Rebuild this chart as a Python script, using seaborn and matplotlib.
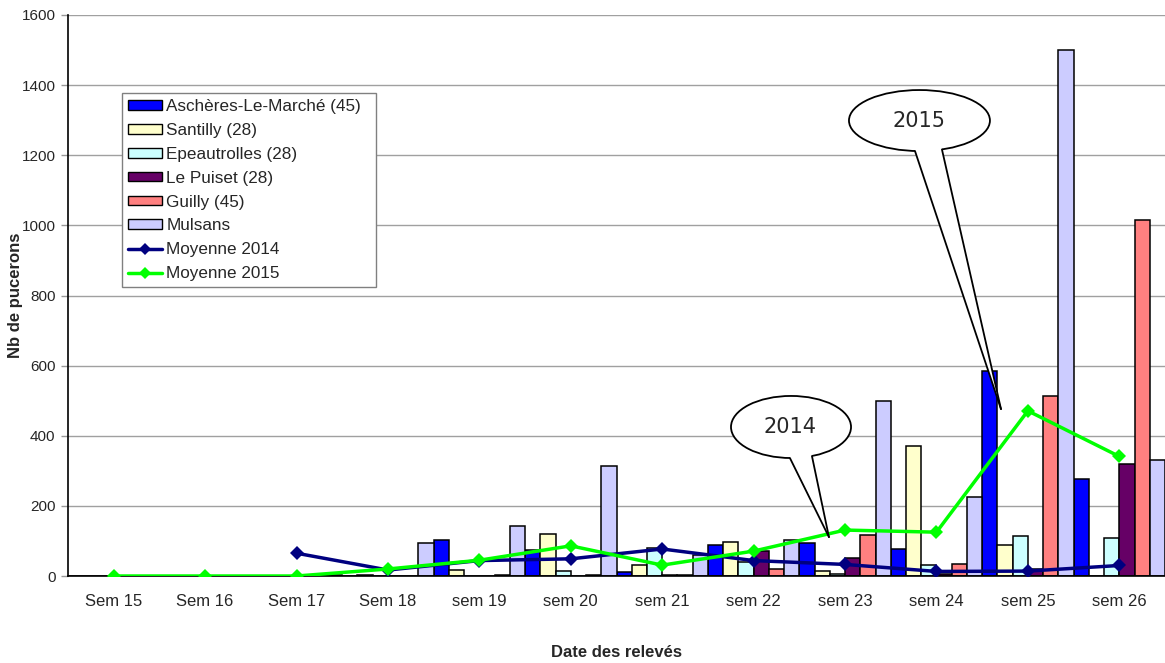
import numpy as np
import pandas as pd
import matplotlib
matplotlib.use("Agg")
import matplotlib.pyplot as plt
from matplotlib.patches import Ellipse, Polygon, Patch
from matplotlib.lines import Line2D
import seaborn as sns

# ---- data ----
weeks = ["Sem 15", "Sem 16", "Sem 17", "Sem 18", "sem 19", "sem 20",
         "sem 21", "sem 22", "sem 23", "sem 24", "sem 25", "sem 26"]
sites = ["Aschères-Le-Marché (45)", "Santilly (28)", "Epeautrolles (28)",
         "Le Puiset (28)", "Guilly (45)", "Mulsans"]

aschere = [0, 0, 0, 0, 104, 73, 12, 88, 95, 76, 586, 278]
santilly = [0, 0, 0, 3, 16, 119, 31, 98, 14, 371, 88, 0]
epeautrolles = [0, 0, 0, 0, 0, 14, 81, 41, 7, 30, 114, 109]
le_puiset = [0, 0, 0, 0, 0, 0, 2, 71, 50, 5, 21, 320]
guilly = [0, 0, 0, 0, 2, 2, 2, 19, 118, 35, 513, 1016]
mulsans = [0, 0, 2, 93, 143, 313, 60, 102, 500, 225, 1500, 330]

moy_2014 = [np.nan, np.nan, 65, 17, 44, 49, 77, 44, 33, 13, 14, 30]
moy_2015 = [0, 0, 0, 20, 45, 86, 31, 71, 131, 125, 471, 341]

site_colors = ["#0000FF", "#FFFFCC", "#CCFFFF", "#660066", "#FF8080", "#CCCCFF"]
col_2014 = "#000080"
col_2015 = "#00FF00"

series = [aschere, santilly, epeautrolles, le_puiset, guilly, mulsans]
long_df = pd.DataFrame({
    "semaine": weeks * len(sites),
    "site": np.repeat(sites, len(weeks)),
    "nb": np.concatenate(series),
})

# ---- figure ----
sns.set_style("white")
plt.rcParams["font.family"] = ["Liberation Sans", "DejaVu Sans"]

W, H = 1165, 663
fig = plt.figure(figsize=(W / 100, H / 100), dpi=100)
ax = fig.add_axes([68 / W, 1 - 576 / H, 1097 / W, 561 / H])

sns.barplot(data=long_df, x="semaine", y="nb", hue="site", order=weeks,
            hue_order=sites, palette=site_colors, saturation=1, width=1.0,
            edgecolor="black", linewidth=1.1, errorbar=None, legend=False,
            ax=ax, zorder=2)

xpos = np.arange(len(weeks))
sns.lineplot(x=xpos, y=moy_2014, color=col_2014, linewidth=2.5, marker="D",
             markersize=7, markeredgewidth=0, ax=ax, zorder=4)
sns.lineplot(x=xpos, y=moy_2015, color=col_2015, linewidth=2.5, marker="D",
             markersize=7, markeredgewidth=0, ax=ax, zorder=5)

# axes cosmetics (Excel-like)
ax.set_xlim(-0.5, len(weeks) - 0.5)
ax.set_ylim(0, 1600)
ax.set_yticks(np.arange(0, 1601, 200))
ax.set_xticks(xpos)
ax.set_xticklabels(weeks)
ax.set_xticks(np.arange(-0.5, len(weeks), 1), minor=True)
ax.tick_params(axis="x", which="major", length=0, pad=13, labelsize=12)
ax.tick_params(axis="x", which="minor", length=5, width=1, color="#999999")
ax.tick_params(axis="y", which="major", length=5, width=1, color="#999999",
               labelsize=11, pad=4, left=True)
ax.yaxis.grid(True, color="#a0a0a0", linewidth=1)
ax.set_axisbelow(True)
for side in ["top", "right"]:
    ax.spines[side].set_visible(False)
ax.spines["left"].set_color("black")
ax.spines["bottom"].set_color("black")
ax.spines["left"].set_linewidth(1.2)
ax.spines["bottom"].set_linewidth(1.2)

ax.set_xlabel("Date des relevés", fontsize=12, fontweight="bold")
ax.set_ylabel("Nb de pucerons", fontsize=12, fontweight="bold")
ax.xaxis.set_label_coords(0.5, -(645 - 576) / 561)
ax.yaxis.set_label_coords(-(68 - 23) / 1097, 0.5)

# ---- legend ----
handles = [Patch(facecolor=c, edgecolor="black", linewidth=1.0, label=s)
           for s, c in zip(sites, site_colors)]
handles += [
    Line2D([], [], color=col_2014, lw=2.5, marker="D", ms=6.5, mew=0, label="Moyenne 2014"),
    Line2D([], [], color=col_2015, lw=2.5, marker="D", ms=6.5, mew=0, label="Moyenne 2015"),
]
ax.legend(handles=handles, loc="upper left",
          bbox_to_anchor=(122 / W, 1 - 93 / H, 254 / W, 0.0),
          bbox_transform=fig.transFigure, mode="expand", borderaxespad=0,
          fontsize=12.3, frameon=True, fancybox=False, framealpha=1,
          edgecolor="#808080", handlelength=2.0, handleheight=0.5,
          handletextpad=0.25, labelspacing=0.52, borderpad=0.35)
ax.get_legend().get_frame().set_linewidth(1.0)
ax.get_legend().set_zorder(8)


# ---- callouts ----
def callout(text, cx, cy, w, h, base_x, tip):
    ell = Ellipse((cx, cy), w, h, facecolor="white", edgecolor="black",
                  linewidth=1.3, zorder=9)
    ax.add_patch(ell)
    base = [(bx, cy - h / 2 * np.sqrt(1 - ((bx - cx) / (w / 2)) ** 2)) for bx in base_x]
    inner = [(bx, by + h * 0.08) for bx, by in base]
    ax.add_patch(Polygon([inner[0], base[0], tip, base[1], inner[1]], closed=True,
                         facecolor="white", edgecolor="none", zorder=10))
    for bx, by in base:
        ax.plot([bx, tip[0]], [by, tip[1]], color="black", lw=1.3, zorder=11)
    ax.text(cx - 0.01, cy, text, ha="center", va="center", fontsize=15,
            family="DejaVu Sans", zorder=12)


callout("2014", 7.409, 425, 1.313, 177, (7.397, 7.638), (7.824, 111))
callout("2015", 8.814, 1299, 1.542, 174, (8.765, 9.06), (9.706, 476))

fig.savefig("out.png", dpi=100)
